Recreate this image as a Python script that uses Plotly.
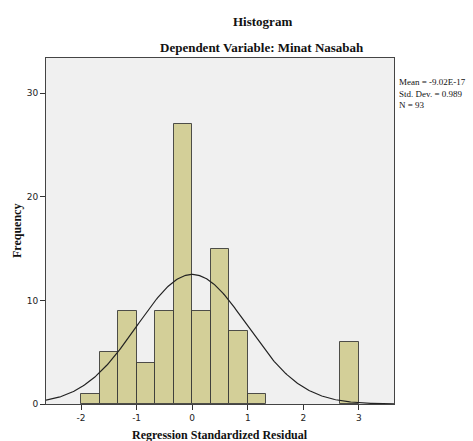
import numpy as np
import plotly.graph_objects as go

# Data
bin_left = [-2.0, -5/3, -4/3, -1.0, -2/3, -1/3, 0.0, 1/3, 2/3, 1.0, 8/3]
counts = [1, 5, 9, 4, 9, 27, 9, 15, 7, 1, 6]
bin_width = 1/3
mean_val = -9.02e-17
std_val = 0.989
n_val = 93
x_ticks = [-2, -1, 0, 1, 2, 3]
y_ticks = [0, 10, 20, 30]

x_range = [-2.63, 3.63]
y_range = [0, 33.4]

fig = go.Figure()
fig.add_trace(go.Bar(
    x=bin_left, y=counts, width=[bin_width]*len(counts), offset=0,
    marker=dict(color="#D3CF98", line=dict(color="rgba(50,50,50,0.85)", width=1)),
    showlegend=False, hoverinfo="skip"))

xc = np.linspace(x_range[0], x_range[1], 300)
yc = n_val * bin_width * np.exp(-0.5 * ((xc - mean_val) / std_val) ** 2) / (std_val * np.sqrt(2 * np.pi))
fig.add_trace(go.Scatter(x=xc, y=yc, mode="lines", line=dict(color="#222222", width=1.2),
                         showlegend=False, hoverinfo="skip"))

serif = "Liberation Serif"
fig.update_layout(
    width=473, height=441,
    margin=dict(l=46, r=79, t=58, b=37),
    paper_bgcolor="white", plot_bgcolor="#F0F0F0",
    bargap=0,
    xaxis=dict(range=x_range, tickvals=x_ticks, ticktext=[str(v) for v in x_ticks],
               showgrid=False, zeroline=False, showline=True, mirror=True,
               linecolor="#444444", linewidth=1, ticks="outside", ticklen=5,
               tickcolor="#333333", tickfont=dict(family="DejaVu Sans", size=9, color="#222")),
    yaxis=dict(range=y_range, tickvals=y_ticks, ticktext=[str(v) for v in y_ticks],
               showgrid=False, zeroline=False, showline=True, mirror=True,
               linecolor="#444444", linewidth=1, ticks="outside", ticklen=5,
               tickcolor="#333333", tickfont=dict(family="DejaVu Sans", size=9, color="#222")),
)

annots = [
    dict(text="<b>Histogram</b>", x=262, y=22, size=13),
    dict(text="<b>Dependent Variable: Minat Nasabah</b>", x=262, y=48, size=13),
    dict(text="<b>Regression Standardized Residual</b>", x=220, y=435, size=12),
]
for a in annots:
    fig.add_annotation(text=a["text"], xref="paper", yref="paper",
                       x=(a["x"] - 46) / (473 - 46 - 79), y=(441 - 37 - a["y"]) / (441 - 58 - 37),
                       showarrow=False, xanchor="center", yanchor="middle",
                       font=dict(family=serif, size=a["size"], color="#111"))

fig.add_annotation(text="<b>Frequency</b>", xref="paper", yref="paper",
                   x=(17 - 46) / (473 - 46 - 79), y=(441 - 37 - 231) / (441 - 58 - 37),
                   showarrow=False, xanchor="center", yanchor="middle", textangle=-90,
                   font=dict(family=serif, size=12, color="#111"))

stats = ["Mean = -9.02E-17", "Std. Dev. = 0.989", "N = 93"]
fig.add_annotation(text="<br>".join(stats), xref="paper", yref="paper",
                   x=(398 - 46) / (473 - 46 - 79), y=(441 - 37 - 76) / (441 - 58 - 37),
                   showarrow=False, xanchor="left", yanchor="top", align="left",
                   borderpad=0,
                   font=dict(family=serif, size=9, color="#111"))

fig.write_html("out.html")
